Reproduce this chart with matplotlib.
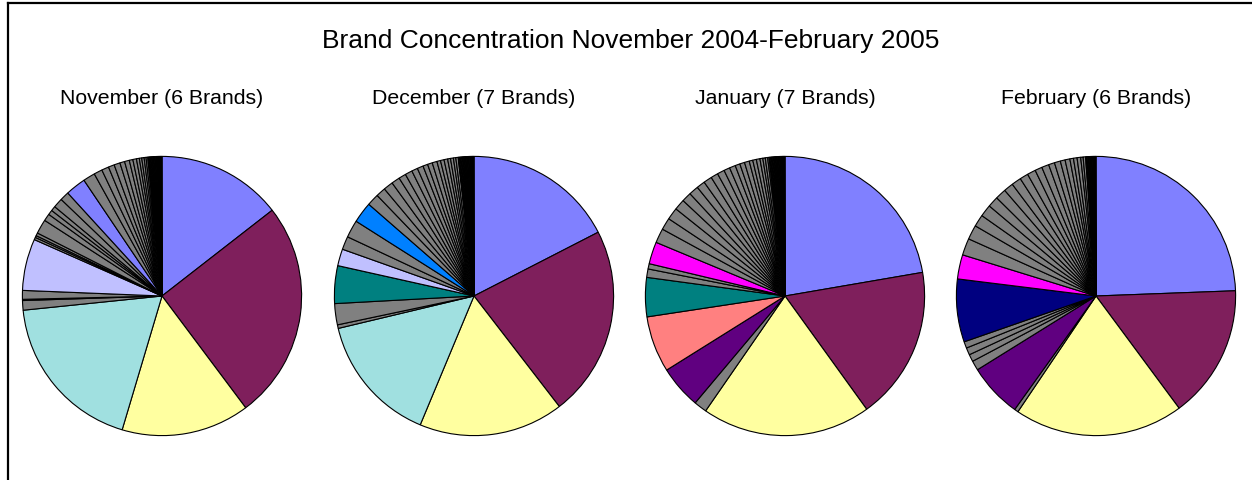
import matplotlib
matplotlib.use("Agg")
import matplotlib.pyplot as plt
from matplotlib.lines import Line2D

plt.rcParams['font.family'] = ['Liberation Sans', 'DejaVu Sans']

# shares in degrees, clockwise from 12 o'clock; "o" = other (small) brands
nov_brands = ["A", "B", "C", "D", "o", "o", "o", "E", "o", "o", "o", "o", "o", "o", "o",
              "o", "o", "A", "o", "o", "o", "o", "o", "o", "o", "o", "o", "o", "o", "o",
              "o", "o", "o", "o", "o", "o", "o", "o", "o", "o", "o", "o", "o", "o", "o",
              "o", "o", "o", "o", "o", "o", "o", "o", "o", "o", "o", "o"]
nov_share = [52.3, 91.4, 53.6, 67.8, 4.0, 0.5, 3.7, 21.6, 1.0, 0.8, 1.2, 6.0, 3.0, 2.0, 2.0,
             4.0, 3.8, 8.5, 5.0, 3.5, 3.0, 2.5, 2.5, 2.0, 2.0, 1.5, 1.5, 1.2, 1.0, 1.0,
             0.8, 0.7, 0.3, 0.3, 0.25, 0.25, 0.25, 0.25, 0.25, 0.25, 0.25, 0.25, 0.25, 0.25, 0.25,
             0.25, 0.25, 0.25, 0.2, 0.2, 0.2, 0.2, 0.2, 0.2, 0.2, 0.2, 0.2]

dec_brands = ["A", "B", "C", "D", "o", "o", "F", "E", "o", "o", "G", "o", "o", "o", "o",
              "o", "o", "o", "o", "o", "o", "o", "o", "o", "o", "o", "o", "o", "o", "o",
              "o", "o", "o", "o", "o", "o", "o", "o", "o", "o", "o", "o", "o", "o", "o",
              "o", "o", "o", "o", "o", "o", "o", "o", "o", "o"]
dec_share = [62.8, 79.5, 60.3, 53.9, 1.5, 8.8, 15.7, 7.0, 5.5, 7.3, 8.7, 5.0, 4.0, 4.0, 3.5,
             3.0, 3.0, 2.5, 2.5, 2.0, 2.0, 2.0, 1.5, 1.5, 1.5, 1.2, 1.2, 1.0, 1.0, 0.2,
             0.3, 0.3, 0.3, 0.3, 0.3, 0.3, 0.25, 0.25, 0.25, 0.25, 0.25, 0.25, 0.25, 0.25, 0.25,
             0.25, 0.25, 0.25, 0.25, 0.25, 0.2, 0.2, 0.2, 0.2, 0.2]

jan_brands = ["A", "B", "C", "o", "I", "H", "F", "o", "o", "K", "o", "o", "o", "o", "o",
              "o", "o", "o", "o", "o", "o", "o", "o", "o", "o", "o", "o", "o", "o", "o",
              "o", "o", "o", "o", "o", "o", "o", "o", "o", "o", "o", "o", "o", "o", "o",
              "o", "o", "o", "o", "o", "o", "o", "o", "o", "o", "o", "o", "o"]
jan_share = [80.2, 63.9, 70.4, 5.4, 17.9, 23.4, 16.3, 3.5, 2.2, 9.2, 6.0, 5.0, 5.0, 4.5, 4.0,
             4.0, 3.5, 3.5, 3.0, 3.0, 2.5, 2.5, 2.0, 2.0, 2.0, 1.5, 1.5, 1.5, 1.2, 1.0,
             1.0, 0.6, 0.3, 0.3, 0.3, 0.3, 0.3, 0.3, 0.3, 0.25, 0.25, 0.25, 0.25, 0.25, 0.25,
             0.25, 0.25, 0.25, 0.25, 0.25, 0.25, 0.25, 0.2, 0.2, 0.2, 0.2, 0.2, 0.2]

feb_brands = ["A", "B", "C", "o", "I", "o", "o", "o", "o", "J", "K", "o", "o", "o", "o",
              "o", "o", "o", "o", "o", "o", "o", "o", "o", "o", "o", "o", "o", "o", "o",
              "o", "o", "o", "o", "o", "o", "o", "o", "o", "o", "o", "o", "o", "o", "o",
              "o", "o", "o", "o"]
feb_share = [87.8, 55.6, 70.5, 1.6, 22.5, 4.0, 3.0, 3.0, 2.7, 26.2, 10.1, 7.0, 6.0, 5.0, 5.0,
             4.5, 4.5, 4.0, 4.0, 3.5, 3.5, 3.0, 3.0, 2.5, 2.5, 2.0, 2.0, 1.5, 1.5, 1.5,
             1.0, 1.0, 0.3, 0.3, 0.3, 0.3, 0.25, 0.25, 0.25, 0.25, 0.25, 0.25, 0.25, 0.25, 0.25,
             0.25, 0.2, 0.2, 0.2]

months = ["November (6 Brands)", "December (7 Brands)", "January (7 Brands)", "February (6 Brands)"]
all_brands = [nov_brands, dec_brands, jan_brands, feb_brands]
all_shares = [nov_share, dec_share, jan_share, feb_share]

brand_colors = {"A": "#8080FF", "B": "#7F1F5C", "C": "#FFFFA0", "D": "#A0E0E0",
                "E": "#C0C0FF", "F": "#008080", "G": "#0080FF", "H": "#FF8080",
                "I": "#600080", "J": "#000080", "K": "#FF00FF", "o": "#808080"}

W, H = 1252, 481
fig = plt.figure(figsize=(W / 100, H / 100), dpi=100)
fig.patch.set_facecolor("white")

centers_x = [162, 474, 785, 1096]
cy, r = 297, 141

for i in range(4):
    cx = centers_x[i]
    ax = fig.add_axes([(cx - r) / W, 1 - (cy + r) / H, 2 * r / W, 2 * r / H])
    cols = [brand_colors[b] for b in all_brands[i]]
    ax.pie(all_shares[i], colors=cols, startangle=90, counterclock=False,
           wedgeprops=dict(edgecolor="black", linewidth=0.8))
    ax.set_xlim(-1.01, 1.01)
    ax.set_ylim(-1.01, 1.01)
    fig.text(cx / W, 1 - 98 / H, months[i], ha="center", va="center", fontsize=15.3)

fig.text(631 / W, 1 - 41 / H, "Brand Concentration November 2004-February 2005",
         ha="center", va="center", fontsize=19)

# frame lines on the left and top
fig.add_artist(Line2D([7.5 / W, 7.5 / W], [0, 1 - 3.5 / H], color="black", lw=1.6))
fig.add_artist(Line2D([7.5 / W, 1], [1 - 3.5 / H, 1 - 3.5 / H], color="black", lw=1.6))

fig.savefig("out.png", dpi=100)
